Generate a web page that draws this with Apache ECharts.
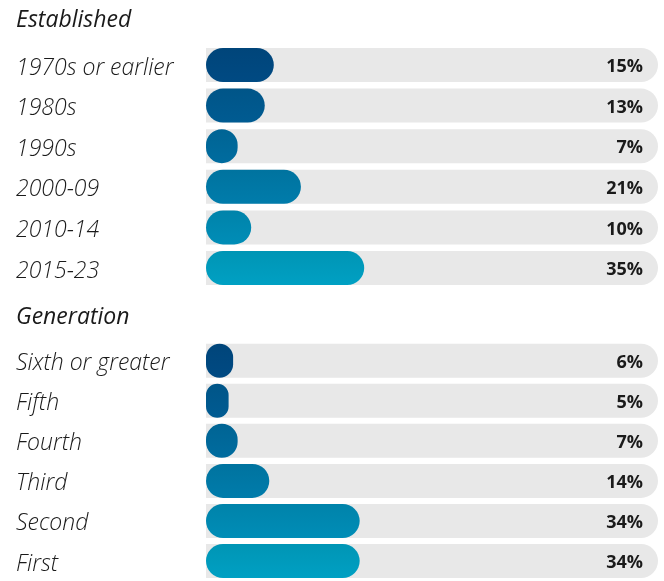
<!DOCTYPE html>
<html>
<head>
<meta charset="utf-8">
<script src="https://cdn.jsdelivr.net/npm/echarts@6/dist/echarts.min.js"></script>
<style>
  html, body { margin: 0; padding: 0; background: #fff; }
  #chart { width: 664px; height: 581px; }
</style>
</head>
<body>
<div id="chart"></div>
<script>
(function () {
    'use strict';

    var establishedCats = ['1970s or earlier', '1980s', '1990s', '2000-09', '2010-14', '2015-23'];
    var establishedVals = [15, 13, 7, 21, 10, 35];
    var generationCats = ['Sixth or greater', 'Fifth', 'Fourth', 'Third', 'Second', 'First'];
    var generationVals = [6, 5, 7, 14, 34, 34];

    var palette = ['#00457a', '#005588', '#006494', '#00739f', '#0083aa', '#0095b5'];
    var font = '"Open Sans", Lato, sans-serif';

    function barColor(i) {
        return new echarts.graphic.LinearGradient(0, 0, 0, 1, [
            { offset: 0, color: palette[i] },
            { offset: 1, color: echarts.color.lift(palette[i], -0.08) }
        ]);
    }

    function yAxis(idx, cats) {
        return {
            type: 'category',
            gridIndex: idx,
            data: cats,
            inverse: true,
            axisLine: { show: false },
            axisTick: { show: false },
            axisLabel: {
                align: 'left',
                verticalAlign: 'top',
                lineHeight: 6,
                margin: 190,
                color: '#1a1a1a',
                fontFamily: font,
                fontStyle: 'italic',
                fontWeight: 300,
                fontSize: 23
            }
        };
    }

    function xAxis(idx) {
        return {
            type: 'value',
            gridIndex: idx,
            min: 0,
            max: 100,
            show: false
        };
    }

    function seriesFor(idx, vals) {
        return [{
            type: 'bar',
            xAxisIndex: idx,
            yAxisIndex: idx,
            barWidth: 34,
            barGap: '-100%',
            silent: true,
            data: vals.map(function () { return 100; }),
            itemStyle: { color: '#e8e8e8', borderRadius: [0, 17, 17, 0] },
            label: {
                show: true,
                position: 'insideRight',
                distance: 15,
                offset: [0, 2],
                color: '#1a1a1a',
                fontFamily: font,
                fontWeight: 'bold',
                fontSize: 18,
                formatter: function (p) { return vals[p.dataIndex] + '%'; }
            }
        }, {
            type: 'bar',
            xAxisIndex: idx,
            yAxisIndex: idx,
            barWidth: 34,
            silent: true,
            data: vals.map(function (v, i) {
                return { value: v, itemStyle: { color: barColor(i) } };
            }),
            itemStyle: { borderRadius: 17 }
        }];
    }

    var chart = echarts.init(document.getElementById('chart'));

    var headStyle = { fontFamily: font, fontStyle: 'italic', fontWeight: 500, fontSize: 23, color: '#1a1a1a' };

    chart.setOption({
        animation: false,
        title: [{
            text: 'Established',
            left: 11,
            top: 4,
            textStyle: headStyle
        }, {
            text: 'Generation',
            left: 11,
            top: 301,
            textStyle: headStyle
        }],
        grid: [
            { left: 206, width: 452, top: 44.7, height: 243.6 },
            { left: 206, width: 452, top: 340.7, height: 243.6 }
        ],
        xAxis: [xAxis(0), xAxis(1)],
        yAxis: [yAxis(0, establishedCats), yAxis(1, generationCats)],
        series: seriesFor(0, establishedVals).concat(seriesFor(1, generationVals))
    });
}());
</script>
</body>
</html>
